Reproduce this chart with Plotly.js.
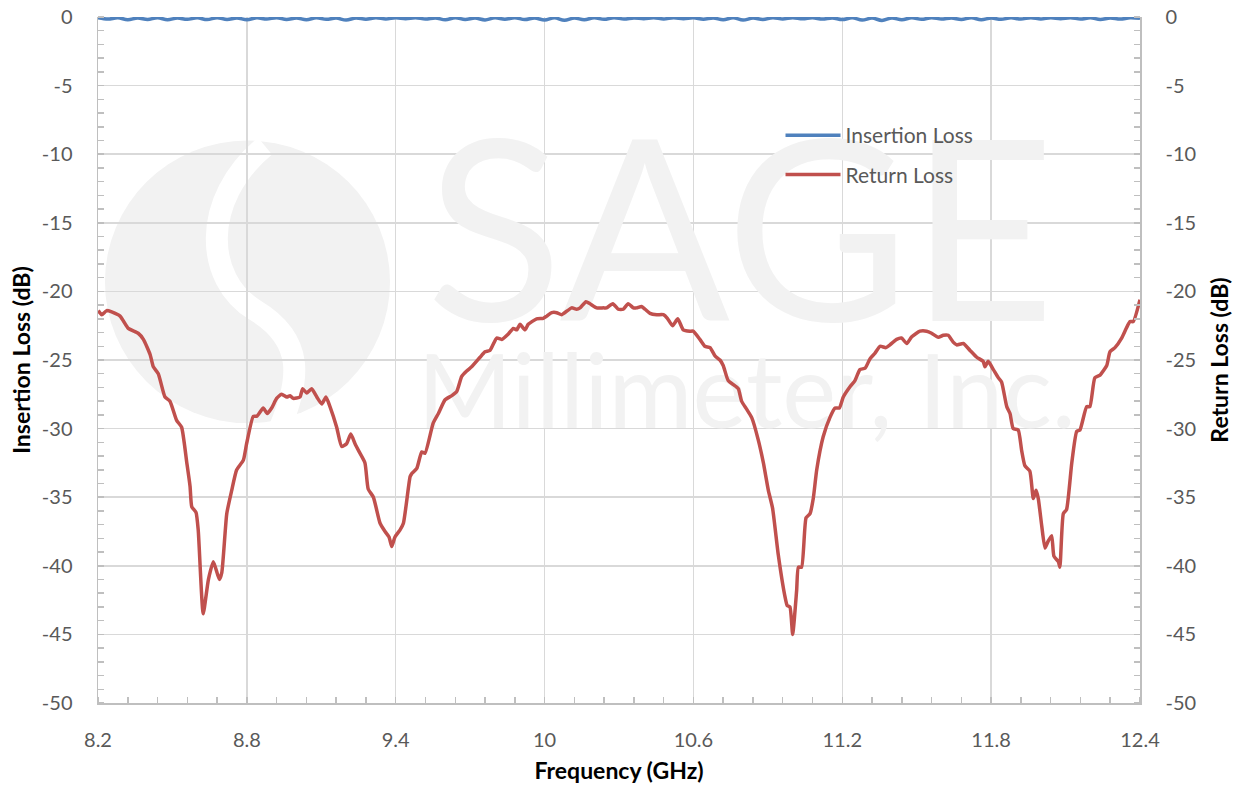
<!DOCTYPE html>
<html>
<head>
<meta charset="utf-8">
<script src="https://cdn.plot.ly/plotly-3.0.1.min.js"></script>
<style>html,body{margin:0;padding:0;background:#fff;}#chart{width:1241px;height:789px;}</style>
</head>
<body>
<div id="chart"></div>
<script>
// ---- data ----
var ilFreq = [8.20,8.24,8.28,8.32,8.36,8.40,8.44,8.48,8.52,8.56,
              8.60,8.64,8.68,8.72,8.76,8.80,8.84,8.88,8.92,8.96,
              9.00,9.04,9.08,9.12,9.16,9.20,9.24,9.28,9.32,9.36,
              9.40,9.44,9.48,9.52,9.56,9.60,9.64,9.68,9.72,9.76,
              9.80,9.84,9.88,9.92,9.96,10.00,10.04,10.08,10.12,10.16,
              10.20,10.24,10.28,10.32,10.36,10.40,10.44,10.48,10.52,10.56,
              10.60,10.64,10.68,10.72,10.76,10.80,10.84,10.88,10.92,10.96,
              11.00,11.04,11.08,11.12,11.16,11.20,11.24,11.28,11.32,11.36,
              11.40,11.44,11.48,11.52,11.56,11.60,11.64,11.68,11.72,11.76,
              11.80,11.84,11.88,11.92,11.96,12.00,12.04,12.08,12.12,12.16,
              12.20,12.24,12.28,12.32,12.36,12.40];
var insertionLoss = [-0.05,-0.15,-0.06,-0.20,-0.07,-0.18,-0.06,-0.20,-0.08,-0.17,
                     -0.06,-0.19,-0.05,-0.18,-0.07,-0.20,-0.06,-0.15,-0.05,-0.18,
                     -0.07,-0.20,-0.06,-0.17,-0.08,-0.22,-0.07,-0.16,-0.05,-0.14,
                     -0.06,-0.12,-0.05,-0.15,-0.07,-0.20,-0.06,-0.18,-0.08,-0.21,
                     -0.06,-0.16,-0.05,-0.19,-0.07,-0.22,-0.06,-0.24,-0.08,-0.20,
                     -0.06,-0.17,-0.05,-0.15,-0.07,-0.12,-0.05,-0.14,-0.06,-0.12,
                     -0.05,-0.16,-0.07,-0.20,-0.06,-0.22,-0.08,-0.18,-0.06,-0.14,
                     -0.05,-0.13,-0.06,-0.15,-0.07,-0.19,-0.06,-0.22,-0.08,-0.25,
                     -0.07,-0.20,-0.06,-0.17,-0.05,-0.15,-0.07,-0.18,-0.06,-0.20,
                     -0.08,-0.17,-0.06,-0.15,-0.05,-0.14,-0.06,-0.12,-0.05,-0.15,
                     -0.06,-0.18,-0.07,-0.15,-0.06,-0.10];

var rlFreq = [8.201,8.215,8.235,8.255,8.289,8.322,8.362,8.383,8.410,8.423,
              8.443,8.470,8.490,8.517,8.537,8.558,8.571,8.578,8.595,8.604,
              8.624,8.645,8.665,8.689,8.699,8.719,8.739,8.759,8.786,8.799,
              8.826,8.840,8.866,8.882,8.900,8.920,8.940,8.961,8.974,8.987,
              9.014,9.025,9.041,9.061,9.082,9.102,9.119,9.135,9.162,9.182,
              9.202,9.219,9.236,9.253,9.276,9.289,9.310,9.337,9.357,9.373,
              9.384,9.397,9.417,9.431,9.458,9.464,9.485,9.505,9.518,9.551,
              9.572,9.599,9.626,9.646,9.666,9.686,9.706,9.740,9.760,9.780,
              9.807,9.827,9.854,9.874,9.888,9.901,9.921,9.934,9.968,9.995,
              10.009,10.029,10.049,10.069,10.109,10.129,10.143,10.167,10.183,10.210,
              10.237,10.250,10.275,10.297,10.317,10.337,10.358,10.371,10.391,10.405,
              10.425,10.452,10.479,10.495,10.516,10.537,10.559,10.586,10.599,10.626,
              10.646,10.667,10.687,10.707,10.720,10.740,10.761,10.781,10.794,10.815,
              10.835,10.861,10.882,10.902,10.919,10.942,10.969,10.978,10.989,11.000,
              11.016,11.023,11.036,11.054,11.070,11.083,11.097,11.123,11.150,11.171,
              11.188,11.204,11.231,11.251,11.271,11.292,11.312,11.332,11.352,11.376,
              11.392,11.419,11.439,11.460,11.480,11.513,11.540,11.560,11.587,11.607,
              11.627,11.647,11.661,11.688,11.715,11.742,11.768,11.775,11.788,11.809,
              11.829,11.842,11.863,11.876,11.889,11.909,11.923,11.936,11.956,11.970,
              11.981,11.990,12.004,12.017,12.030,12.044,12.053,12.071,12.077,12.091,
              12.104,12.125,12.145,12.158,12.185,12.198,12.218,12.239,12.266,12.279,
              12.299,12.326,12.347,12.360,12.373,12.400];
var returnLoss = [-21.4,-21.7,-21.4,-21.5,-21.8,-22.7,-23.05,-23.5,-24.6,-25.5,
                  -26.0,-27.7,-28.0,-29.4,-29.9,-32.5,-34.2,-35.7,-36.1,-37.4,
                  -43.5,-41.0,-39.7,-41.0,-40.5,-36.2,-34.5,-33.0,-32.3,-31.1,
                  -29.1,-29.1,-28.5,-28.9,-28.5,-27.8,-27.5,-27.7,-27.6,-27.8,
                  -27.7,-27.1,-27.4,-27.1,-27.7,-28.2,-27.7,-28.4,-29.9,-31.3,
                  -31.1,-30.4,-31.1,-31.7,-32.5,-34.4,-35.0,-36.9,-37.5,-37.9,
                  -38.6,-37.9,-37.4,-36.9,-33.5,-33.3,-32.9,-31.7,-31.8,-29.6,
                  -28.9,-27.9,-27.6,-27.3,-26.2,-25.8,-25.5,-24.8,-24.4,-24.3,
                  -23.4,-23.5,-23.1,-22.7,-22.8,-22.4,-22.8,-22.4,-22.0,-21.96,
                  -21.8,-21.55,-21.55,-21.7,-21.2,-21.3,-21.2,-20.75,-20.9,-21.2,
                  -21.2,-21.2,-20.9,-21.3,-21.3,-20.9,-21.2,-21.2,-21.1,-21.3,
                  -21.6,-21.7,-21.7,-21.96,-22.5,-22.0,-22.8,-22.9,-22.9,-23.5,
                  -24.0,-24.1,-24.7,-25.0,-25.4,-26.5,-26.8,-27.1,-28.0,-28.6,
                  -29.2,-30.8,-32.5,-34.5,-35.8,-39.2,-42.25,-42.9,-43.0,-45.0,
                  -41.8,-40.1,-40.1,-36.5,-36.2,-35.1,-33.0,-30.6,-29.2,-28.5,
                  -28.5,-27.7,-26.95,-26.5,-25.7,-25.6,-24.9,-24.5,-24.0,-24.1,
                  -23.9,-23.5,-23.4,-23.8,-23.3,-22.9,-22.9,-23.05,-23.35,-23.2,
                  -23.2,-23.7,-23.9,-23.8,-24.3,-24.8,-25.1,-25.5,-25.1,-25.7,
                  -26.3,-26.6,-28.4,-28.9,-30.0,-30.1,-31.6,-32.7,-33.1,-35.1,
                  -34.5,-35.1,-37.1,-38.7,-38.2,-37.8,-39.3,-39.7,-40.1,-36.2,
                  -35.9,-32.5,-30.2,-30.1,-28.4,-28.4,-26.3,-26.1,-25.4,-24.4,
                  -24.1,-23.4,-22.6,-22.2,-22.2,-20.6];

var xTickVals = [8.2, 8.8, 9.4, 10, 10.6, 11.2, 11.8, 12.4];
var xTickText = ['8.2', '8.8', '9.4', '10', '10.6', '11.2', '11.8', '12.4'];
var yTickVals = [0, -5, -10, -15, -20, -25, -30, -35, -40, -45, -50];
var yTickText = ['0', '-5', '-10', '-15', '-20', '-25', '-30', '-35', '-40', '-45', '-50'];

var seriesNames = ['Insertion Loss', 'Return Loss'];
var watermarkText = ['SAGE', 'Millimeter, Inc.'];

// ---- chart ----
var FONT = 'Lato, "Open Sans", sans-serif';
var GRID = '#d9d9d9';
var AXIS = '#bfbfbf';
var TICKFONT = {family: FONT, size: 20, color: '#595959'};
var TITLEFONT = {family: FONT, size: 23, color: '#000000', weight: 'bold'};

var traces = [
  {x: [10.79], y: [-17.6], mode: 'text', text: [watermarkText[0]],
   textfont: {family: FONT, size: 252, color: '#f2f2f2', weight: 400},
   hoverinfo: 'skip', showlegend: false, xaxis: 'x', yaxis: 'y'},
  {x: [10.815], y: [-28.1], mode: 'text', text: [watermarkText[1]],
   textfont: {family: FONT, size: 102, color: '#f2f2f2', weight: 400},
   hoverinfo: 'skip', showlegend: false, xaxis: 'x', yaxis: 'y'},
  {x: ilFreq, y: insertionLoss, name: seriesNames[0], mode: 'lines',
   line: {color: '#4f81bd', width: 3.5, shape: 'spline', smoothing: 1.0},
   legendgroup: 'a', xaxis: 'x', yaxis: 'y'},
  {x: rlFreq, y: returnLoss, name: seriesNames[1], mode: 'lines',
   line: {color: '#c0504d', width: 3.5, shape: 'spline', smoothing: 0.5},
   legendgroup: 'b', xaxis: 'x', yaxis: 'y2'}
];

var yCommon = {
  range: [-50, 0], tickmode: 'array', tickvals: yTickVals, ticktext: yTickText,
  ticks: '', ticklabelstandoff: 20, tickfont: TICKFONT,
  showline: true, linecolor: AXIS, linewidth: 1.5, zeroline: false,
  minor: {tickmode: 'linear', tick0: 0, dtick: 1, ticks: 'inside', ticklen: 6,
          tickcolor: AXIS, tickwidth: 1.5, showgrid: false},
  fixedrange: true, automargin: false
};

var layout = {
  width: 1241, height: 789,
  margin: {l: 98, r: 101, t: 17, b: 86},
  paper_bgcolor: '#ffffff', plot_bgcolor: '#ffffff',
  font: {family: FONT},
  showlegend: true,
  legend: {x: 0.655, y: 0.857, xanchor: 'left', yanchor: 'top',
           font: {family: FONT, size: 21, color: '#595959'},
           bgcolor: 'rgba(0,0,0,0)', itemwidth: 55, tracegroupgap: 9,
           traceorder: 'grouped'},
  xaxis: {
    range: [8.2, 12.4], tickmode: 'array', tickvals: xTickVals, ticktext: xTickText,
    ticks: '', ticklabelstandoff: 18, tickfont: TICKFONT,
    showgrid: true, gridcolor: GRID, gridwidth: 1.5,
    showline: true, linecolor: AXIS, linewidth: 1.5, zeroline: false,
    minor: {tickmode: 'linear', tick0: 8.2, dtick: 0.12, ticks: 'inside', ticklen: 6,
            tickcolor: AXIS, tickwidth: 1.5, showgrid: false},
    title: {text: 'Frequency (GHz)', font: TITLEFONT, standoff: 13},
    fixedrange: true, automargin: false
  },
  yaxis: Object.assign({}, yCommon, {
    side: 'left', showgrid: true, gridcolor: GRID, gridwidth: 1.5,
    title: {text: 'Insertion Loss (dB)', font: TITLEFONT, standoff: 5}
  }),
  yaxis2: Object.assign({}, yCommon, {
    side: 'right', overlaying: 'y', showgrid: false,
    title: {text: 'Return Loss (dB)', font: TITLEFONT, standoff: 17}
  }),
  shapes: [
    {type: 'circle', xref: 'x', yref: 'y', layer: 'below',
     x0: 8.228, x1: 9.377, y0: -9.0, y1: -29.6,
     fillcolor: '#f2f2f2', line: {width: 0}},
    {type: 'path', xref: 'x', yref: 'y', layer: 'below',
     path: 'M 8.873,-9.4 C 8.611,-13.34 8.631,-19.17 8.833,-21.36 S 9.014,-26.46 8.934,-29.9',
     line: {color: '#ffffff', width: 22}}
  ]
};

Plotly.newPlot('chart', traces, layout, {staticPlot: true, displayModeBar: false});
</script>
</body>
</html>
